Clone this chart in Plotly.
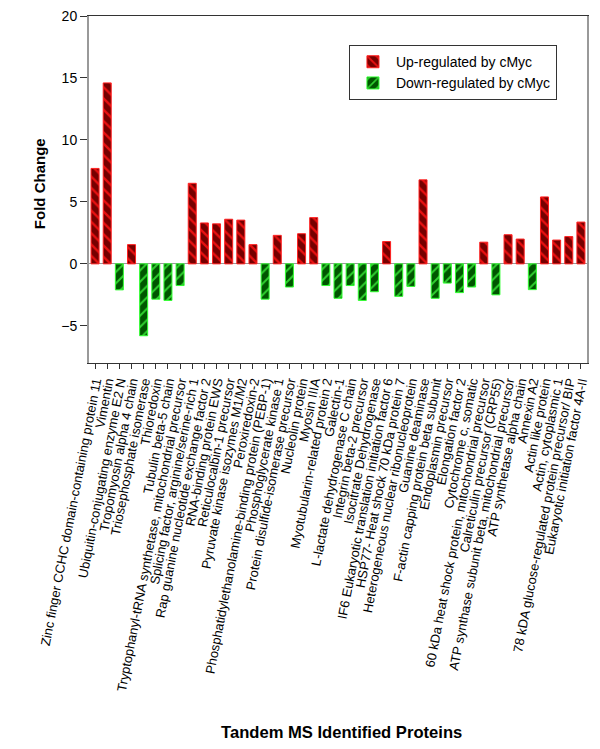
import plotly.graph_objects as go

proteins = [
    "Zinc finger CCHC domain-containing protein 11",
    "Vimentin",
    "Ubiquitin-conjugating enzyme E2 N",
    "Tropomyosin alpha 4 chain",
    "Triosephosphate isomerase",
    "Thioredoxin",
    "Tubulin beta-5 chain",
    "Tryptophanyl-tRNA synthetase, mitochondrial precursor",
    "Splicing factor, arginine/serine-rich 1",
    "Rap guanine nucleotide exchange factor 2",
    "RNA-binding protein EWS",
    "Reticulocalbin-1 precursor",
    "Pyruvate kinase isozymes M1/M2",
    "Peroxiredoxin-2",
    "Phosphatidylethanolamine-binding protein (PEBP-1)",
    "Phosphoglycerate kinase 1",
    "Protein disulfide-isomerase precursor",
    "Nucleolin protein",
    "Myosin IIIA",
    "Myotubularin-related protein 2",
    "Galectin-1",
    "L-lactate dehydrogenase C chain",
    "Integrin beta-2 precursor",
    "Isocitrate Dehydrogenase",
    "IF6 Eukaryotic translation initiation factor 6",
    "HSP77- Heat shock 70 kDa protein 7",
    "Heterogeneous nuclear ribonucleoprotein",
    "Guanine deaminase",
    "F-actin capping protein beta subunit",
    "Endoplasmin precursor",
    "Elongation factor 2",
    "Cytochrome c, somatic",
    "60 kDa heat shock protein, mitochondrial precursor",
    "Calreticulin precursor (CRP55)",
    "ATP synthase subunit beta, mitochondrial precursor",
    "ATP synthetase alpha chain",
    "Annexin A2",
    "Actin like protein",
    "Actin, cytoplasmic 1",
    "78 kDA glucose-regulated protein precursor/ BIP",
    "Eukaryotic initiation factor 4A-II",
]

fold_change = [
    7.7, 14.6, -2.1, 1.55, -5.8, -2.85, -2.95, -1.75, 6.5, 3.3,
    3.23, 3.6, 3.53, 1.55, -2.85, 2.3, -1.87, 2.43, 3.73, -1.75,
    -2.78, -1.75, -2.95, -2.25, 1.8, -2.62, -1.82, 6.78, -2.78, -1.55,
    -2.32, -1.87, 1.75, -2.5, 2.35, 2.0, -2.08, 5.4, 1.92, 2.2, 3.37,
]

y_ticks = [-5, 0, 5, 10, 15, 20]

up_vals = [v if v > 0 else None for v in fold_change]
down_vals = [v if v < 0 else None for v in fold_change]

font_family = "Liberation Sans, Arial, sans-serif"

fig = go.Figure()
fig.add_trace(go.Bar(
    x=proteins, y=up_vals, name="Up-regulated by cMyc",
    width=0.66,
    marker=dict(
        color="#760000",
        line=dict(color="#ff2020", width=1),
        pattern=dict(shape="\\", fgcolor="#e81010", bgcolor="#760000",
                     size=8, solidity=0.3, fillmode="replace"),
    ),
))
fig.add_trace(go.Bar(
    x=proteins, y=down_vals, name="Down-regulated by cMyc",
    width=0.66,
    marker=dict(
        color="#005500",
        line=dict(color="#30ff30", width=1),
        pattern=dict(shape="/", fgcolor="#30d030", bgcolor="#005500",
                     size=8, solidity=0.25, fillmode="replace"),
    ),
))

fig.update_layout(
    width=592, height=741,
    barmode="overlay",
    plot_bgcolor="white", paper_bgcolor="white",
    margin=dict(l=81, r=13, t=8, b=386, autoexpand=False),
    font=dict(family=font_family, size=13, color="black"),
    showlegend=True,
    legend=dict(
        x=0.522, y=0.916, xanchor="left", yanchor="top",
        bgcolor="white", bordercolor="#333", borderwidth=1,
        font=dict(size=14, family=font_family),
        itemwidth=36, tracegroupgap=0,
    ),
    xaxis=dict(
        type="category",
        tickmode="array", tickvals=proteins, ticktext=proteins,
        tickangle=-79,
        tickfont=dict(size=13, family=font_family),
        ticks="outside", ticklen=5, tickcolor="#333",
        showline=True, linecolor="#333", linewidth=1, mirror=True,
        showgrid=False,
        automargin=False,
        ticklabeloverflow="allow",
    ),
    yaxis=dict(
        range=[-8, 20],
        tickmode="array", tickvals=y_ticks,
        ticks="outside", ticklen=7, tickcolor="#333",
        tickfont=dict(size=14, family=font_family),
        showline=True, linecolor="#999", linewidth=2, mirror=True,
        showgrid=False,
        zeroline=True, zerolinecolor="#999", zerolinewidth=1,
        automargin=False,
        ticklabeloverflow="allow",
    ),
    annotations=[
        dict(text="<b>Fold Change</b>", xref="paper", yref="paper",
             x=-0.098, y=0.516, xanchor="center", yanchor="middle",
             textangle=-90, showarrow=False,
             font=dict(size=15, family=font_family)),
        dict(text="<b>Tandem MS Identified Proteins</b>", xref="paper", yref="paper",
             x=0.508, y=-1.066, xanchor="center", yanchor="middle",
             showarrow=False,
             font=dict(size=16.6, family=font_family)),
    ],
)

fig.write_html("out.html")
